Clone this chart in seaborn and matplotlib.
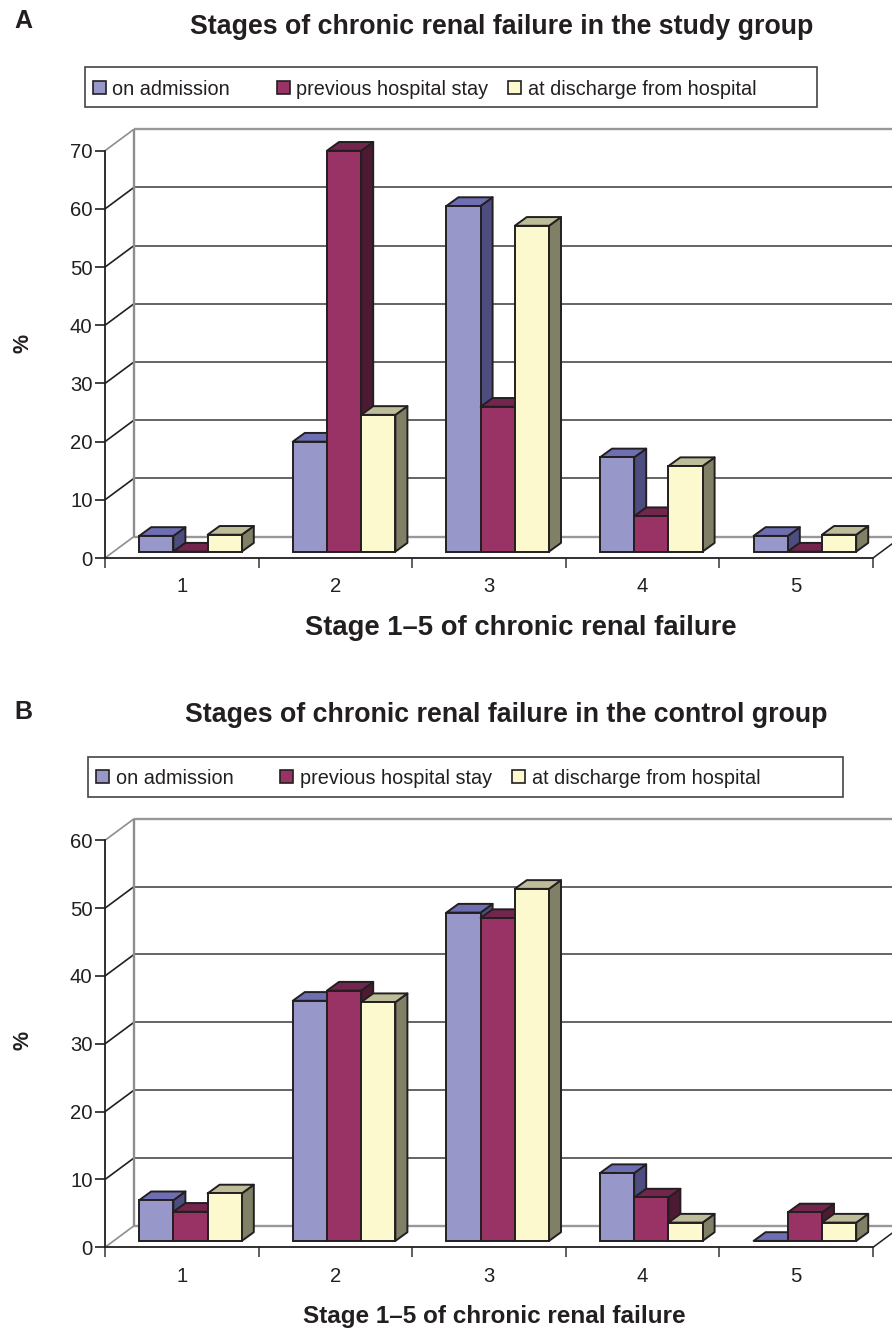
"""Two pseudo-3D grouped bar panels: CKD stage split in study and control groups."""

import matplotlib.pyplot as plt
import pandas as pd
import seaborn as sns
from matplotlib.lines import Line2D
from matplotlib.patches import Polygon, Rectangle
from matplotlib.transforms import Affine2D, IdentityTransform

STAGES = ["1", "2", "3", "4", "5"]
SERIES = ["on admission", "previous hospital stay", "at discharge from hospital"]

STUDY_ADMISSION = [2.7, 18.9, 59.4, 16.2, 2.7]
STUDY_PREVIOUS = [0.0, 68.9, 24.9, 6.1, 0.0]
STUDY_DISCHARGE = [2.9, 23.5, 56.0, 14.7, 2.9]

CONTROL_ADMISSION = [6.0, 35.4, 48.4, 10.0, 0.0]
CONTROL_PREVIOUS = [4.3, 36.9, 47.6, 6.4, 4.2]
CONTROL_DISCHARGE = [7.0, 35.2, 51.9, 2.7, 2.7]

FRONT = ["#9797CA", "#993366", "#FCF9CF"]
TOP = ["#6E6EB2", "#73264D", "#BDBD99"]
SIDE = ["#4D4D80", "#4D1A33", "#808066"]

INK = "#231F20"
W, H = 892, 1328
WALL_DX, WALL_DY = 29, 21.5
BASE_DX, BASE_DY = 8.7, 6.4
DEPTH_DX, DEPTH_DY = 12, 8.7

sns.set_theme(style="white")
plt.rcParams["font.family"] = ["Liberation Sans", "DejaVu Sans"]
plt.rcParams["text.color"] = INK


def fig_xy(x, y):
    return x / W, 1 - y / H


def draw_panel(fig, box, values, ymax, ystep):
    left, right, top, bottom = box
    x0, y0 = fig_xy(left, bottom)
    ax = fig.add_axes([x0, y0, (right - left) / W, (bottom - top) / H])
    ax.patch.set_alpha(0)

    df = pd.DataFrame({
        "stage": STAGES * 3,
        "series": [s for s in SERIES for _ in STAGES],
        "percent": [v for vals in values for v in vals],
    })
    sns.barplot(
        data=df, x="stage", y="percent", hue="series", hue_order=SERIES, order=STAGES,
        palette=FRONT, saturation=1, width=0.668, gap=0, edgecolor=INK, linewidth=1.4,
        legend=False, ax=ax,
    )
    ax.set_xlim(-0.5, 4.5)
    ax.set_ylim(0, ymax)
    ax.set_xlabel("")
    ax.set_ylabel("")

    yticks = list(range(0, ymax + 1, ystep))
    ax.set_yticks(yticks)
    ax.set_xticks([i - 0.5 for i in range(6)], minor=True)
    ax.tick_params(axis="y", length=7, width=1.2, color=INK, labelsize=14.6, labelcolor=INK, pad=2, left=True)
    ax.tick_params(axis="x", which="major", length=0, labelsize=14.6, labelcolor=INK, pad=14)
    ax.tick_params(axis="x", which="minor", length=7, width=1.2, color="#444444", bottom=True)
    sns.despine(ax=ax)
    for side in ["left", "bottom"]:
        ax.spines[side].set_color(INK)
        ax.spines[side].set_linewidth(1.3)

    def to_px(x, y, dx=0, dy=0):
        px, py = ax.transData.transform((x, y))
        return px + dx, py + dy

    def wall_line(pts, color, lw):
        xs, ys = zip(*pts)
        ax.add_line(Line2D(xs, ys, transform=IdentityTransform(), color=color, lw=lw,
                           clip_on=False, zorder=1, solid_capstyle="butt"))

    # back wall: one diagonal and one level line per tick, then the corner post
    xa, xb = ax.get_xlim()
    for tick in yticks:
        edge = tick in (0, ymax)
        color = "#98989A" if edge else "#4A4A4C"
        wall_line([to_px(xa, tick), to_px(xa, tick, WALL_DX, WALL_DY)],
                  "#8E8E90" if edge else INK, 1.2)
        wall_line([to_px(xa, tick, WALL_DX, WALL_DY), to_px(xb, tick, WALL_DX, WALL_DY)],
                  color, 1.7 if edge else 1.2)
    wall_line([to_px(xa, 0, WALL_DX, WALL_DY), to_px(xa, ymax, WALL_DX, WALL_DY)], "#8E8E90", 1.7)
    wall_line([to_px(xb, 0), to_px(xb, 0, WALL_DX, WALL_DY)], INK, 1.1)

    # fronts come from seaborn; shift them onto the floor and add the depth faces
    shift = Affine2D().translate(BASE_DX, BASE_DY)
    for s, container in enumerate(ax.containers):
        for bar in container:
            xl, w, h = bar.get_x(), bar.get_width(), bar.get_height()
            order = 3 + 3 * (round(xl + w / 2 + 0.5) * 3 + s)
            bar.set_transform(ax.transData + shift)
            bar.set_clip_on(False)
            bar.set_zorder(order + 2)
            a = to_px(xl, h, BASE_DX, BASE_DY)
            b = to_px(xl + w, h, BASE_DX, BASE_DY)
            c = to_px(xl + w, 0, BASE_DX, BASE_DY)
            top_face = [a, b, (b[0] + DEPTH_DX, b[1] + DEPTH_DY), (a[0] + DEPTH_DX, a[1] + DEPTH_DY)]
            side_face = [c, b, (b[0] + DEPTH_DX, b[1] + DEPTH_DY), (c[0] + DEPTH_DX, c[1] + DEPTH_DY)]
            for pts, col, z in [(side_face, SIDE[s], order), (top_face, TOP[s], order + 1)]:
                ax.add_patch(Polygon(pts, closed=True, facecolor=col, edgecolor=INK, lw=1.4,
                                     joinstyle="round", transform=IdentityTransform(),
                                     clip_on=False, zorder=z))
    return ax


def draw_legend(fig, box, squares, labels_x):
    left, right, top, bottom = box
    x0, y0 = fig_xy(left, bottom)
    fig.add_artist(Rectangle((x0, y0), (right - left) / W, (bottom - top) / H,
                             transform=fig.transFigure, facecolor="white",
                             edgecolor="#444444", lw=1.2))
    mid = (top + bottom) / 2
    for s, label in enumerate(SERIES):
        sx, sy = fig_xy(squares[s], mid + 6.5)
        fig.add_artist(Rectangle((sx, sy), 13 / W, 13 / H, transform=fig.transFigure,
                                 facecolor=FRONT[s], edgecolor=INK, lw=1.2))
        tx, ty = fig_xy(labels_x[s], mid)
        fig.text(tx, ty, label, fontsize=14.3, ha="left", va="center_baseline")


fig = plt.figure(figsize=(W / 100, H / 100), dpi=100, facecolor="white")

draw_panel(fig, (105, 873, 150.7, 558), [STUDY_ADMISSION, STUDY_PREVIOUS, STUDY_DISCHARGE], 70, 10)
draw_panel(fig, (105, 873, 840.3, 1247.3), [CONTROL_ADMISSION, CONTROL_PREVIOUS, CONTROL_DISCHARGE], 60, 10)

draw_legend(fig, (85, 817, 67.3, 107.3), [93, 277, 508], [112, 296, 528])
draw_legend(fig, (88, 843, 757, 796.5), [96, 280, 512], [116, 300, 532])

bold = {"fontweight": "bold", "ha": "center", "va": "center"}
fig.text(*fig_xy(502, 27), "Stages of chronic renal failure in the study group", fontsize=19.3, **bold)
fig.text(*fig_xy(506, 715), "Stages of chronic renal failure in the control group", fontsize=19.3, **bold)
fig.text(*fig_xy(521, 628), "Stage 1–5 of chronic renal failure", fontsize=19.7, **bold)
fig.text(*fig_xy(494, 1317), "Stage 1–5 of chronic renal failure", fontsize=17.5, **bold)
fig.text(*fig_xy(23, 21), "A", fontsize=18, **bold)
fig.text(*fig_xy(23, 712), "B", fontsize=18, **bold)
fig.text(*fig_xy(23, 343), "%", fontsize=15.5, rotation=90, **bold)
fig.text(*fig_xy(23, 1040), "%", fontsize=15.5, rotation=90, **bold)

fig.savefig("out.png", dpi=100)
